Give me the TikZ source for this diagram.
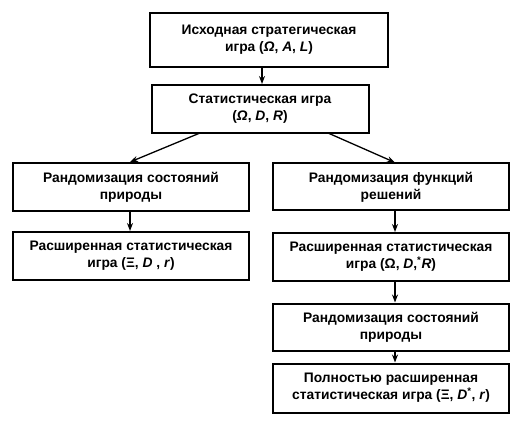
\documentclass[tikz,border=0pt]{standalone}
\usepackage{fontspec}
\setmainfont{Liberation Sans}
\usetikzlibrary{arrows.meta}
\begin{document}
\begin{tikzpicture}[x=1pt,y=-1pt,
  box/.style={draw=black, line width=2pt, align=center, inner sep=0pt,
    font=\fontsize{13.8}{17}\selectfont\bfseries},
  arr/.style={line width=1.3pt, -{Stealth[length=8pt,width=6pt]}}]
\useasboundingbox (0,0) rectangle (524,430);
\node[box, minimum width=238pt, minimum height=54pt] (b1) at (269,40)
  {Исходная стратегическая\\игра (\textit{Ω}, \textit{A}, \textit{L})};
\node[box, minimum width=217pt, minimum height=48pt] (b2) at (260,109)
  {Статистическая игра\\(\textit{Ω}, \textit{D}, \textit{R})};
\node[box, minimum width=236pt, minimum height=48pt] (l1) at (131,187)
  {Рандомизация состояний\\природы};
\node[box, minimum width=236pt, minimum height=48pt] (l2) at (131,256)
  {Расширенная статистическая\\игра (Ξ, \textit{D} , \textit{r})};
\node[box, minimum width=236pt, minimum height=47pt] (r1) at (391,187)
  {Рандомизация функций\\решений};
\node[box, minimum width=236pt, minimum height=48pt] (r2) at (391,257)
  {Расширенная статистическая\\игра (Ω, \textit{D},\textsuperscript{*}\textit{R})};
\node[box, minimum width=236pt, minimum height=47pt] (r3) at (391,327)
  {Рандомизация состояний\\природы};
\node[box, minimum width=236pt, minimum height=49pt] (r4) at (391,388)
  {Полностью расширенная\\статистическая игра (Ξ, \textit{D}\textsuperscript{*}, \textit{r})};
\draw[arr] (b1.south -| 262,0) -- (b2.north -| 262,0);
\coordinate (s1) at (200,133);
\coordinate (s2) at (328,133);
\draw[arr] (s1) -- (l1.north -| 130,0);
\draw[arr] (s2) -- (r1.north -| 395,0);
\draw[arr] (l1.south -| 130,0) -- (l2.north -| 130,0);
\draw[arr] (r1.south -| 395,0) -- (r2.north -| 395,0);
\draw[arr] (r2.south -| 395,0) -- (r3.north -| 395,0);
\draw[arr] (r3.south -| 395,0) -- (r4.north -| 395,0);
\end{tikzpicture}
\end{document}
